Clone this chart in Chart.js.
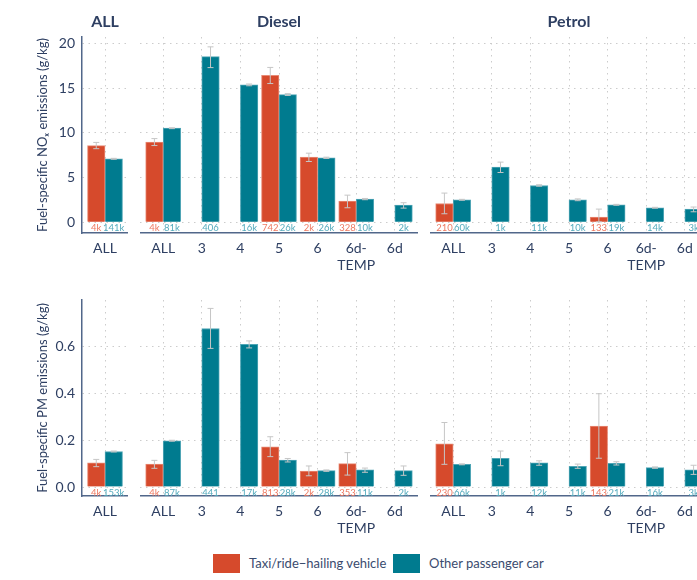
<!DOCTYPE html>
<html>
<head>
<meta charset="utf-8">
<script src="https://cdn.jsdelivr.net/npm/chart.js@4.4.1/dist/chart.umd.min.js"></script>
<style>
  html, body { margin:0; padding:0; background:#fff; overflow:hidden; }
  #wrap { position:relative; width:697px; height:580px; overflow:hidden; background:#fff; font-family:Lato, "Open Sans", sans-serif; }
  canvas { position:absolute; }
  .sw { position:absolute; width:27px; height:19px; }
  .lt { position:absolute; font-size:13px; color:#3a4b6e; line-height:19px; white-space:nowrap; }
</style>
</head>
<body>
<div id="wrap">
  <canvas id="c1" width="98" height="275" style="left:30px;top:0px"></canvas>
  <canvas id="c2" width="278" height="275" style="left:140px;top:0px"></canvas>
  <canvas id="c3" width="278" height="275" style="left:430px;top:0px"></canvas>
  <canvas id="c4" width="98" height="248" style="left:30px;top:290px"></canvas>
  <canvas id="c5" width="278" height="248" style="left:140px;top:290px"></canvas>
  <canvas id="c6" width="278" height="248" style="left:430px;top:290px"></canvas>
  <div class="sw" style="left:213px;top:554px;background:#d64a2c"></div>
  <div class="lt" style="left:249px;top:554px">Taxi/ride−hailing vehicle</div>
  <div class="sw" style="left:393px;top:554px;background:#007b8f"></div>
  <div class="lt" style="left:429px;top:554px">Other passenger car</div>
</div>
<script>
// ---------- categories & labels ----------
const panelTitles = ['ALL', 'Diesel', 'Petrol'];
const seriesNames = ['Taxi/ride−hailing vehicle', 'Other passenger car'];
const catsAll = ['ALL'];
const catsFuel = ['ALL', '3', '4', '5', '6', ['6d-', 'TEMP'], '6d'];
const noxTicks = [0, 5, 10, 15, 20];
const pmTicks = [0, 0.2, 0.4, 0.6];
const noxTitle = 'Fuel-specific NOₓ emissions (g/kg)';
const pmTitle = 'Fuel-specific PM emissions (g/kg)';

// ---------- NOx : ALL ----------
const noxAllTaxi = [8.57], noxAllTaxiLo = [8.22], noxAllTaxiHi = [8.92], noxAllTaxiN = ['4k'];
const noxAllOther = [7.09], noxAllOtherLo = [7.04], noxAllOtherHi = [7.14], noxAllOtherN = ['141k'];
// ---------- NOx : Diesel ----------
const noxDslTaxi   = [8.95, null, null, 16.43, 7.28, 2.37, null];
const noxDslTaxiLo = [8.57, null, null, 15.50, 6.79, 1.62, null];
const noxDslTaxiHi = [9.35, null, null, 17.30, 7.72, 3.03, null];
const noxDslTaxiN  = ['4k', null, null, '742', '2k', '328', null];
const noxDslOther   = [10.51, 18.50, 15.35, 14.27, 7.20, 2.59, 1.92];
const noxDslOtherLo = [10.46, 17.28, 15.25, 14.17, 7.13, 2.52, 1.58];
const noxDslOtherHi = [10.56, 19.60, 15.45, 14.37, 7.27, 2.66, 2.18];
const noxDslOtherN  = ['81k', '406', '16k', '26k', '26k', '10k', '2k'];
// ---------- NOx : Petrol ----------
const noxPetTaxi   = [2.10, null, null, null, 0.58, null, null];
const noxPetTaxiLo = [0.95, null, null, null, 0.05, null, null];
const noxPetTaxiHi = [3.26, null, null, null, 1.47, null, null];
const noxPetTaxiN  = ['210', null, null, null, '133', null, null];
const noxPetOther   = [2.51, 6.16, 4.11, 2.51, 1.95, 1.62, 1.47];
const noxPetOtherLo = [2.46, 5.56, 4.03, 2.41, 1.90, 1.57, 1.17];
const noxPetOtherHi = [2.56, 6.72, 4.19, 2.61, 2.00, 1.67, 1.70];
const noxPetOtherN  = ['60k', '1k', '11k', '10k', '19k', '14k', '3k'];

// ---------- PM : ALL ----------
const pmAllTaxi = [0.103], pmAllTaxiLo = [0.087], pmAllTaxiHi = [0.118], pmAllTaxiN = ['4k'];
const pmAllOther = [0.152], pmAllOtherLo = [0.150], pmAllOtherHi = [0.154], pmAllOtherN = ['153k'];
// ---------- PM : Diesel ----------
const pmDslTaxi   = [0.098, null, null, 0.172, 0.068, 0.100, null];
const pmDslTaxiLo = [0.080, null, null, 0.130, 0.048, 0.051, null];
const pmDslTaxiHi = [0.114, null, null, 0.215, 0.090, 0.147, null];
const pmDslTaxiN  = ['4k', null, null, '813', '2k', '353', null];
const pmDslOther   = [0.198, 0.678, 0.610, 0.115, 0.070, 0.073, 0.070];
const pmDslOtherLo = [0.196, 0.593, 0.595, 0.107, 0.067, 0.063, 0.050];
const pmDslOtherHi = [0.200, 0.764, 0.625, 0.122, 0.073, 0.081, 0.090];
const pmDslOtherN  = ['87k', '441', '17k', '28k', '28k', '11k', '2k'];
// ---------- PM : Petrol ----------
const pmPetTaxi   = [0.185, null, null, null, 0.261, null, null];
const pmPetTaxiLo = [0.097, null, null, null, 0.123, null, null];
const pmPetTaxiHi = [0.276, null, null, null, 0.399, null, null];
const pmPetTaxiN  = ['230', null, null, null, '143', null, null];
const pmPetOther   = [0.097, 0.123, 0.103, 0.088, 0.101, 0.083, 0.073];
const pmPetOtherLo = [0.095, 0.091, 0.093, 0.080, 0.094, 0.080, 0.054];
const pmPetOtherHi = [0.099, 0.154, 0.112, 0.098, 0.108, 0.086, 0.093];
const pmPetOtherN  = ['66k', '1k', '12k', '11k', '21k', '16k', '3k'];

// ---------- styling ----------
const RED = '#d64a2c', TEAL = '#007b8f';
const RED_TXT = '#ee7a62', TEAL_TXT = '#55abbd';
const NAVY = '#2e3f62', AXIS = '#51678a', GRID = '#cccccc', ERR = '#c6c6c6';
const FONT = 'Lato, "Open Sans", sans-serif';

const errBars = {
  id: 'errBars',
  afterDatasetsDraw(chart) {
    const ctx = chart.ctx, ys = chart.scales.y;
    chart.data.datasets.forEach((ds, di) => {
      const meta = chart.getDatasetMeta(di);
      meta.data.forEach((bar, i) => {
        const lo = ds.errLo[i], hi = ds.errHi[i];
        if (lo == null || hi == null) return;
        const x = bar.x, y1 = ys.getPixelForValue(lo), y2 = ys.getPixelForValue(hi);
        ctx.save();
        ctx.strokeStyle = ERR; ctx.lineWidth = 1;
        ctx.beginPath();
        ctx.moveTo(x, y1); ctx.lineTo(x, y2);
        ctx.moveTo(x - 3, y1); ctx.lineTo(x + 3, y1);
        ctx.moveTo(x - 3, y2); ctx.lineTo(x + 3, y2);
        ctx.stroke();
        ctx.restore();
      });
    });
  }
};

const countLabels = {
  id: 'countLabels',
  afterDatasetsDraw(chart) {
    const ctx = chart.ctx, ys = chart.scales.y;
    const y0 = ys.getPixelForValue(0);
    chart.data.datasets.forEach((ds, di) => {
      const meta = chart.getDatasetMeta(di);
      meta.data.forEach((bar, i) => {
        const t = ds.counts[i];
        if (t == null) return;
        ctx.save();
        ctx.font = '9.5px ' + FONT;
        ctx.fillStyle = ds.countColor;
        ctx.textAlign = 'center';
        ctx.textBaseline = 'middle';
        ctx.fillText(t, bar.x, y0 + 6);
        ctx.restore();
      });
    });
  }
};

const panelTitle = {
  id: 'panelTitle',
  afterDraw(chart, args, opts) {
    if (!opts.text) return;
    const ctx = chart.ctx, a = chart.chartArea;
    ctx.save();
    ctx.font = 'bold 16px ' + FONT;
    ctx.fillStyle = NAVY;
    ctx.textAlign = 'center';
    ctx.textBaseline = 'middle';
    ctx.fillText(opts.text, (a.left + a.right) / 2, 22);
    ctx.restore();
  }
};

function makePanel(id, cats, taxi, taxiLo, taxiHi, taxiN, other, otherLo, otherHi, otherN,
                   yMin, yMax, yTicks, yFmt, first, yTitle, title, padTop) {
  const ds = (name, vals, lo, hi, n, col, txtCol, border) => ({
    label: name,
    data: vals.map((v, i) => ({ x: i, y: v })),
    errLo: lo, errHi: hi, counts: n, countColor: txtCol,
    backgroundColor: col, borderColor: border, borderWidth: 1, borderSkipped: 'bottom',
    barThickness: 17.5
  });
  new Chart(document.getElementById(id), {
    type: 'bar',
    data: {
      datasets: [
        ds(seriesNames[0], taxi, taxiLo, taxiHi, taxiN, RED, RED_TXT, '#e88a75'),
        ds(seriesNames[1], other, otherLo, otherHi, otherN, TEAL, TEAL_TXT, '#4fa5b5')
      ]
    },
    options: {
      responsive: false,
      animation: false,
      layout: { padding: { top: padTop, left: 0, right: 0, bottom: 0 }, autoPadding: false },
      plugins: { legend: { display: false }, tooltip: { enabled: false }, panelTitle: { text: title } },
      scales: {
        x: {
          type: 'linear',
          offset: false,
          min: -0.6, max: cats.length - 0.4,
          afterBuildTicks: s => { s.ticks = cats.map((c, i) => ({ value: i })); },
          afterFit: s => { s.height = 42; s.paddingLeft = 0; s.paddingRight = 0; },
          ticks: {
            autoSkip: false, maxRotation: 0, padding: 7,
            color: NAVY, font: { family: FONT, size: 14 },
            callback: v => cats[v]
          },
          grid: { color: GRID, lineWidth: 1, drawTicks: false, offset: false },
          border: { display: true, color: AXIS, width: 1.5, dash: [1.5, 4.5] }
        },
        y: {
          type: 'linear',
          min: yMin, max: yMax,
          afterBuildTicks: s => { s.ticks = yTicks.map(v => ({ value: v })); },
          afterFit: s => { s.width = first ? 52 : 0; s.paddingTop = 0; s.paddingBottom = 0; },
          ticks: {
            display: first, padding: 7, color: NAVY,
            font: { family: FONT, size: 14 },
            callback: v => yFmt(v)
          },
          grid: { color: GRID, lineWidth: 1, drawTicks: false },
          border: { display: first, color: AXIS, width: 1.5, dash: [1.5, 4.5] },
          title: {
            display: first, text: yTitle, color: NAVY,
            font: { family: FONT, size: 13 }, padding: { top: 5, bottom: 0 }
          }
        }
      }
    },
    plugins: [errBars, countLabels, panelTitle]
  });
}

const fmtNox = v => String(v);
const fmtPm = v => v.toFixed(1);

makePanel('c1', catsAll, noxAllTaxi, noxAllTaxiLo, noxAllTaxiHi, noxAllTaxiN,
          noxAllOther, noxAllOtherLo, noxAllOtherHi, noxAllOtherN,
          -1.2, 20.7, noxTicks, fmtNox, true, noxTitle, panelTitles[0], 37);
makePanel('c2', catsFuel, noxDslTaxi, noxDslTaxiLo, noxDslTaxiHi, noxDslTaxiN,
          noxDslOther, noxDslOtherLo, noxDslOtherHi, noxDslOtherN,
          -1.2, 20.7, noxTicks, fmtNox, false, noxTitle, panelTitles[1], 37);
makePanel('c3', catsFuel, noxPetTaxi, noxPetTaxiLo, noxPetTaxiHi, noxPetTaxiN,
          noxPetOther, noxPetOtherLo, noxPetOtherHi, noxPetOtherN,
          -1.2, 20.7, noxTicks, fmtNox, false, noxTitle, panelTitles[2], 37);
makePanel('c4', catsAll, pmAllTaxi, pmAllTaxiLo, pmAllTaxiHi, pmAllTaxiN,
          pmAllOther, pmAllOtherLo, pmAllOtherHi, pmAllOtherN,
          -0.0385, 0.8, pmTicks, fmtPm, true, pmTitle, null, 10);
makePanel('c5', catsFuel, pmDslTaxi, pmDslTaxiLo, pmDslTaxiHi, pmDslTaxiN,
          pmDslOther, pmDslOtherLo, pmDslOtherHi, pmDslOtherN,
          -0.0385, 0.8, pmTicks, fmtPm, false, pmTitle, null, 10);
makePanel('c6', catsFuel, pmPetTaxi, pmPetTaxiLo, pmPetTaxiHi, pmPetTaxiN,
          pmPetOther, pmPetOtherLo, pmPetOtherHi, pmPetOtherN,
          -0.0385, 0.8, pmTicks, fmtPm, false, pmTitle, null, 10);
</script>
</body>
</html>
